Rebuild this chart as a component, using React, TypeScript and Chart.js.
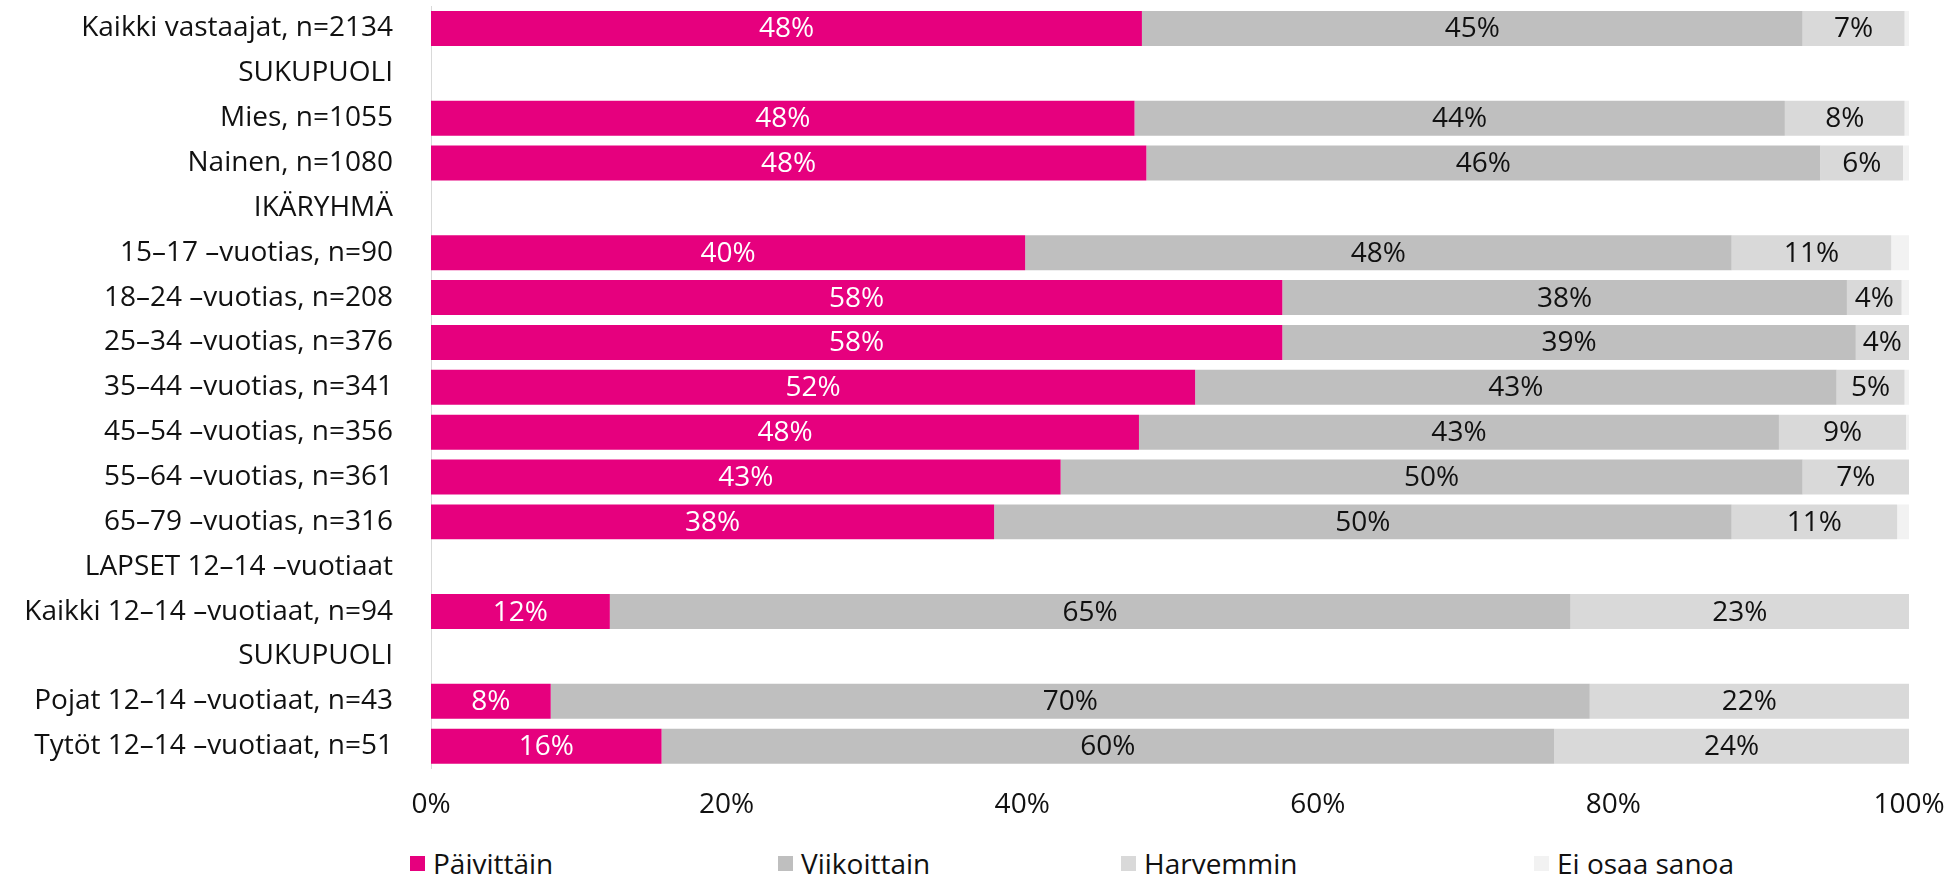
import React, { useEffect, useRef } from 'react';
import { Chart, registerables } from 'chart.js';

Chart.register(...registerables);

const categories = [
  'Kaikki vastaajat, n=2134',
  'SUKUPUOLI',
  'Mies, n=1055',
  'Nainen, n=1080',
  'IKÄRYHMÄ',
  '15–17 –vuotias, n=90',
  '18–24 –vuotias, n=208',
  '25–34 –vuotias, n=376',
  '35–44 –vuotias, n=341',
  '45–54 –vuotias, n=356',
  '55–64 –vuotias, n=361',
  '65–79 –vuotias, n=316',
  'LAPSET 12–14 –vuotiaat',
  'Kaikki 12–14 –vuotiaat, n=94',
  'SUKUPUOLI',
  'Pojat 12–14 –vuotiaat, n=43',
  'Tytöt 12–14 –vuotiaat, n=51',
];

const seriesNames = ['Päivittäin', 'Viikoittain', 'Harvemmin', 'Ei osaa sanoa'];
const seriesColors = ['#E6007E', '#BFBFBF', '#D9D9D9', '#F2F2F2'];

const paivittain = [48.1, null, 47.6, 48.4, null, 40.2, 57.6, 57.6, 51.7, 47.9, 42.6, 38.1, null, 12.1, null, 8.1, 15.6];
const viikoittain = [44.7, null, 44.0, 45.6, null, 47.8, 38.2, 38.8, 43.4, 43.3, 50.2, 49.9, null, 65.0, null, 70.3, 60.4];
const harvemmin = [6.9, null, 8.1, 5.6, null, 10.8, 3.7, 3.6, 4.6, 8.6, 7.2, 11.2, null, 22.9, null, 21.6, 24.0];
const eiOsaaSanoa = [0.3, null, 0.3, 0.4, null, 1.2, 0.5, 0, 0.3, 0.2, 0, 0.8, null, 0, null, 0, 0];

const xTicks = [0, 20, 40, 60, 80, 100];

const FONT = '"Open Sans", "Noto Sans", sans-serif';
const TEXT = '#111111';

const segmentLabels = {
  id: 'segmentLabels',
  afterDatasetsDraw(chart: any) {
    const ctx = chart.ctx;
    chart.data.datasets.forEach((ds: any, di: number) => {
      if (di > 2) return;
      const meta = chart.getDatasetMeta(di);
      meta.data.forEach((el: any, i: number) => {
        const v = ds.data[i];
        if (v == null || v === 0) return;
        const p = el.getProps(['x', 'y', 'base'], true);
        ctx.save();
        ctx.font = `28px ${FONT}`;
        ctx.fillStyle = di === 0 ? '#ffffff' : TEXT;
        ctx.textAlign = 'center';
        ctx.textBaseline = 'middle';
        ctx.fillText(Math.round(v) + '%', (p.x + p.base) / 2, p.y + 1);
        ctx.restore();
      });
    });
  },
};

export default function App() {
  const canvasRef = useRef<HTMLCanvasElement | null>(null);

  useEffect(() => {
    if (!canvasRef.current) return;
    const allSeries = [paivittain, viikoittain, harvemmin, eiOsaaSanoa];
    const chart = new Chart(canvasRef.current, {
      type: 'bar',
      data: {
        labels: categories,
        datasets: allSeries.map((d, i) => ({
          label: seriesNames[i],
          data: d,
          backgroundColor: seriesColors[i],
          borderWidth: 0,
          categoryPercentage: 1,
          barPercentage: 0.78,
        })),
      },
      options: {
        indexAxis: 'y',
        responsive: true,
        maintainAspectRatio: false,
        animation: false,
        layout: { padding: { top: 6, right: 43, bottom: 0, left: 0 } },
        plugins: {
          legend: { display: false },
          tooltip: { enabled: false },
        },
        scales: {
          x: {
            stacked: true,
            min: 0,
            max: 100,
            afterBuildTicks: (scale: any) => {
              scale.ticks = xTicks.map((v) => ({ value: v }));
            },
            afterFit: (scale: any) => {
              scale.height = 61.4;
              scale.paddingLeft = 0;
              scale.paddingRight = 0;
            },
            grid: { display: false, drawTicks: false },
            border: { display: false },
            ticks: {
              padding: 20,
              color: TEXT,
              font: { family: FONT, size: 28 },
              callback: (v: any) => v + '%',
            },
          },
          y: {
            stacked: true,
            afterFit: (scale: any) => {
              scale.width = 431;
              scale.paddingTop = 0;
              scale.paddingBottom = 0;
            },
            grid: { display: false, drawTicks: false },
            border: { display: true, color: '#D9D9D9', width: 1 },
            ticks: {
              padding: 38,
              color: TEXT,
              autoSkip: false,
              font: { family: FONT, size: 28 },
            },
          },
        },
      },
      plugins: [segmentLabels],
    });
    return () => chart.destroy();
  }, []);

  const legendLefts = [410, 778, 1121, 1534];

  return (
    <div style={{ position: 'absolute', left: 0, top: 0, width: 1952, height: 876, background: '#fff' }}>
      <div style={{ position: 'absolute', left: 0, top: 0, width: 1952, height: 830 }}>
        <canvas ref={canvasRef} />
      </div>
      {seriesNames.map((name, i) => (
        <div
          key={name}
          style={{
            position: 'absolute',
            left: legendLefts[i],
            top: 844,
            height: 38,
            display: 'flex',
            alignItems: 'center',
            fontFamily: FONT,
            fontSize: 28,
            color: TEXT,
            whiteSpace: 'nowrap',
          }}
        >
          <span style={{ display: 'inline-block', width: 15, height: 15, background: seriesColors[i], marginRight: 8 }} />
          <span>{name}</span>
        </div>
      ))}
    </div>
  );
}
